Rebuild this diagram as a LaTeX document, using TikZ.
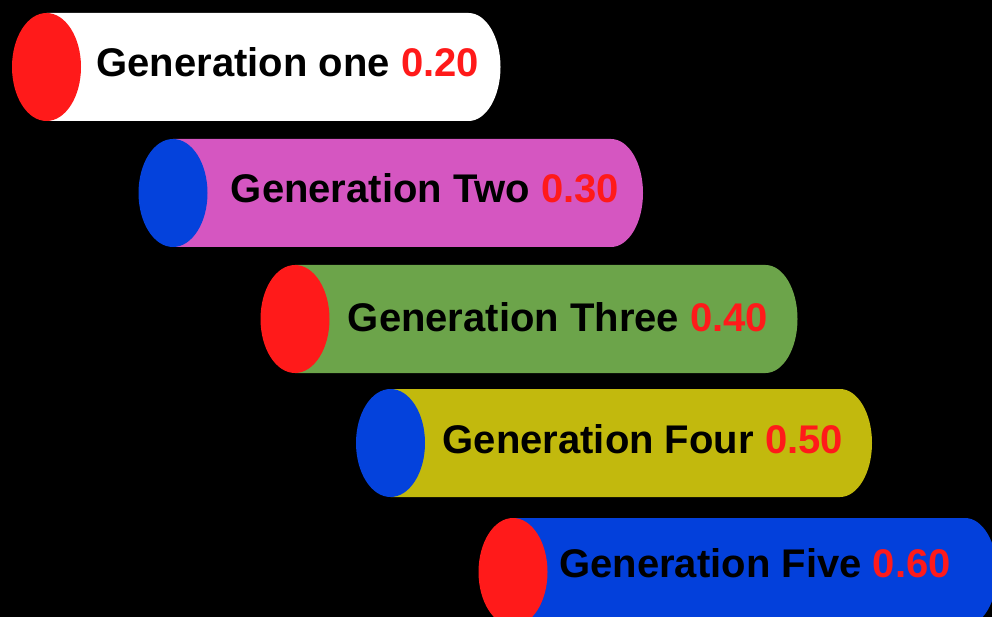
\documentclass[tikz,border=0pt]{standalone}
\usepackage{fontspec}
\setmainfont{Liberation Sans}
\usetikzlibrary{shapes.geometric}

\definecolor{capred}{HTML}{FF1A1A}
\definecolor{capblue}{HTML}{0442DC}
\definecolor{gentwo}{HTML}{D556C1}
\definecolor{genthree}{HTML}{6CA44A}
\definecolor{genfour}{HTML}{C2B90D}
\definecolor{genfive}{HTML}{0340DB}

\begin{document}
\begin{tikzpicture}[x=1pt, y=-1pt,
        endcap/.style={ellipse, minimum width=69pt, minimum height=108pt, inner sep=0pt},
        gen/.style={anchor=base, inner sep=0pt, font=\bfseries\fontsize{40}{40}\selectfont}]
        % Background
        \fill[black] (0,0) rectangle (992,617);
        \useasboundingbox (0,0) rectangle (992,617);

        % Bodies
        \fill[white] (46.5,13) -- (468.5,13) arc[start angle=-90, end angle=90, x radius=32, y radius=54] -- (46.5,121) -- cycle;
        \fill[gentwo] (173,139) -- (611,139) arc[start angle=-90, end angle=90, x radius=32, y radius=54] -- (173,247) -- cycle;
        \fill[genthree] (295,265) -- (765.5,265) arc[start angle=-90, end angle=90, x radius=32, y radius=54] -- (295,373) -- cycle;
        \fill[genfour] (390.5,389) -- (840,389) arc[start angle=-90, end angle=90, x radius=32, y radius=54] -- (390.5,497) -- cycle;
        \fill[genfive] (513,518) -- (965,518) arc[start angle=-90, end angle=90, x radius=32, y radius=54] -- (513,626) -- cycle;

        % Caps
        \node[endcap, fill=capred] (onecap) at (46.5,67) {};
        \node[endcap, fill=capblue] (twocap) at (173,193) {};
        \node[endcap, fill=capred] (threecap) at (295,319) {};
        \node[endcap, fill=capblue] (fourcap) at (390.5,443) {};
        \node[endcap, fill=capred] (fivecap) at (513,572) {};

        % Labels
        \node[gen] (one) at (287.8,76.5) {Generation one \textcolor{capred}{0.20}};
        \node[gen] (two) at (425,203) {Generation Two \textcolor{capred}{0.30}};
        \node[gen] (three) at (558,331) {Generation Three \textcolor{capred}{0.40}};
        \node[gen] (four) at (642.8,453.3) {Generation Four \textcolor{capred}{0.50}};
        \node[gen] (five) at (755,577) {Generation Five \textcolor{capred}{0.60}};
    \end{tikzpicture}
\end{document}
